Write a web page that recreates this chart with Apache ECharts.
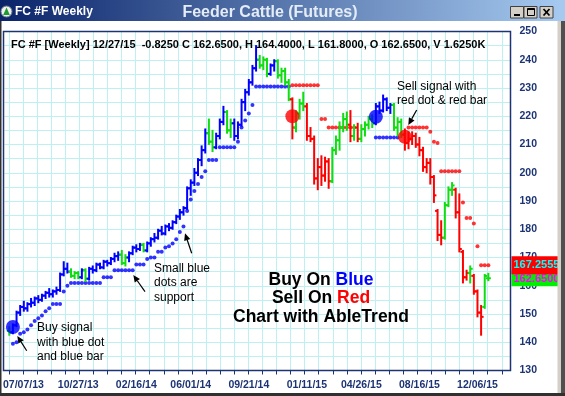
<!DOCTYPE html>
<html><head><meta charset="utf-8">
<script src="https://cdn.jsdelivr.net/npm/echarts@6/dist/echarts.min.js"></script>
<style>html,body{margin:0;padding:0;background:#fff}#c{width:565px;height:396px}</style>
</head><body><div id="c"></div>
<script>
// ---------- DATA (weekly bars, week index 0 = 07/07/13) ----------
const firstWeek = -3;
const barOpen = [
144,143.5,146,150.5,152.5,152,153.5,154,155.5,155,
156.5,157.5,157,158,158.5,164,166,165,163.5,164.5,
163,165.5,162.5,166,165.5,167.5,166.5,168.5,168,169.5,
170.5,171,168,170,171.5,173.5,173,174.5,172.5,175,
176.5,177,179.5,178.5,181,180.5,182.5,184.5,186,187.5,
194.5,196.5,200,204.5,208,214,211,209,213,218,
221.5,215,217.5,213,217,225,228.5,232,237,240,
238,240,235,238,239.5,234.5,236,232,226,216,
221,224.5,223.5,213,212,198,202,199,204,197,
208,211.5,216,219,217,213,216,212,215.5,217,
219,217.5,223.5,222,226,223,224,216,218,213.5,
210.5,212,213,210,208,202,203.5,198.5,186.5,178,
177,188.5,194,194,186,172,163,164.5,163.5,158,
150.5,152.5,162.65];
const barHigh = [
145.5,146.5,151,153,154.5,154,155.5,156,156.5,157,
158,159,158.5,159.5,164.5,168.5,168,166,165,165,
166,166,166.5,167,168,168,169,169,170,171.5,
172,172.5,171,172,174,174.5,175,175,175.5,177,
178.5,180,181,181.5,182,183,185,187,188,195,
197.5,201.5,205,209.5,215.5,219,215,214,219,223.5,
222,219,219,218,226,229.5,233,238,245,241.5,
241,240.5,238.5,240,240,237,237,233,226.5,222,
226,228.5,224.5,216,213,205,206,205.5,205,209,
213,218,221,221.5,222,217,217.5,217,218,220,
220.5,224.5,225,227.5,226.5,224.5,224.5,219.5,219,215.5,
214.5,214.5,214,212.5,209,205,205,199,187,183,
189.5,195,196.5,194.5,192.5,172.5,165.5,167,164,158.5,
153,164,164.4];
const barLow = [
142.5,143,145.5,149.5,151,151,152.5,153,154,154.5,
155.5,156,156,157,158,163.5,164.5,163,162.5,162.5,
162.5,161.5,162,164.5,165,166,166,167,167.5,168.5,
169,167.5,167,168.5,171,172,172.5,172,172,174,
175.5,176.5,178,178,179.5,180,182,183.5,185,187,
192,195.5,199,202.5,207,210,207.5,208.5,212,217,
214,212.5,211.5,212,216.5,222,227.5,231,236,237,
236.5,234,234.5,236,233.5,232,231,225.5,212,214.5,
219,222,211.5,211,196,194,195.5,197,194.5,196.5,
206.5,208,214.5,215,211,211.5,211,211,213,215.5,
216,217,221,221.5,222,221,215,213,212.5,208,
208.5,210,209,206,200.5,200,196,189.5,176,174.5,
176.5,188,192,184,172,161,162,161,157,149,
142.5,152,161.8];
const barClose = [
143.5,146,150.5,152.5,152,153.5,154,155.5,155,156.5,
157.5,157,158,158.5,164,166,165,163.5,164.5,163,
165.5,162.5,166,165.5,167.5,166.5,168.5,168,169.5,170.5,
171,168,170,171.5,173.5,173,174.5,172.5,175,176.5,
177,179.5,178.5,181,180.5,182.5,184.5,186,187.5,194.5,
196.5,200,204.5,208,214,211,209,213,218,221.5,
215,217.5,213,217,225,228.5,232,237,240,238,
240,235,238,239.5,234.5,236,232,226,216,221,
224.5,223.5,213,212,198,202,199,204,197,208,
211.5,216,219,217,213,216,212,215.5,217,219,
217.5,223.5,222,226,223,224,216,218,213.5,210.5,
212,213,210,208,202,203.5,198.5,192,178,177,
188.5,194,195.5,186,173,163,164.5,166,158,150.5,
149,163.475,162.65];
const barColor = ('g b b b b b b b b b ' +
 'b b b b b b b g g g ' + 'b g b b b b b b b b ' +
 'b g g b b b b g b b ' + 'b b b b b b b b b b ' +
 'b b b b b g g b b b ' + 'g g b b b b b b b g ' +
 'g g b b g g g g r g ' + 'g g r r r r r r r g ' +
 'g g g g r g r g g g ' + 'g b b b b b g g g r ' +
 'r r r r r r r r r r ' + 'g g g r r r r g r r ' +
 'r g g').split(' ');
const stopLevel = [
null,139.5,140,143,143.5,144.5,146,147.5,148.5,149.5,
151,152,153.5,153.5,153.5,158,160,161,161,161,
161,161,161,161,161,161,163,163,163,165.5,
165.5,165.5,165.5,165.5,165.5,167.5,167.5,167.5,169.5,170,
170,172,172,173.5,174,175,176.5,179,181,186.5,
190.5,193.5,196,198.5,200.5,204.5,204.5,204.5,209,209,
209,209,209,211,216,218.5,221,224,230.5,230.5,
230.5,230.5,230.5,230.5,230.5,230.5,230.5,230.5,231,231,
231,231,231,231,231,231,219,219,216,216,
216,216,216,216,216,216,null,null,null,null,
null,212.5,212.5,212.5,212.5,212.5,212.5,212.5,null,null,
216,216,216,216,216,216,214.5,211,210.5,200.5,
200.5,200.5,200.5,200.5,200.5,189.5,184,184,182,174,
167.2555,167.2555,167.2555];
const signalWeek  = [-2, 75, 98, 106];
const signalLevel = [145.4, 220, 219.8, 212.7];
const signalColor = ['b', 'r', 'b', 'r'];
const xLabelWeeks = [0.9, 16, 32, 47, 63, 79, 94, 110, 126];
const xLabelText  = ['07/07/13','10/27/13','02/16/14','06/01/14','09/21/14','01/11/15','04/26/15','08/16/15','12/06/15'];
const yLabelValues = [130,140,150,160,170,180,190,200,210,220,230,240,250];
const priceTagValue = [162.65, 167.2555];
const priceTagText  = ['162.6500', '167.2555'];

// ---------- BUILD ----------
const FONT = '"Liberation Sans", Arial, sans-serif';
const NAVY = '#1c3473';
const GRIDC = '#bdf0f0';
const COL = {b: '#0000ff', g: '#10dd10', r: '#ff0000'};
const X_MIN = -4.35, X_MAX = 135.1;
const weeks = barOpen.map((_, k) => firstWeek + k);
const ohlcData = weeks.map((w, k) => [w, barOpen[k], barHigh[k], barLow[k], barClose[k]]);
function trendAt(w) { let s = null; signalWeek.forEach((sw, j) => { if (sw <= w) s = signalColor[j]; }); return s; }
const blueStops = [], redStops = [];
weeks.forEach((w, k) => { const v = stopLevel[k]; if (v == null) return; (trendAt(w) === 'r' ? redStops : blueStops).push([w, v]); });
const gridWeeks = [];
for (let k = 0; k < 36; k++) gridWeeks.push(-3.1 + 3.88 * k);

const chart = echarts.init(document.getElementById('c'));

function arrow(x1, y1, x2, y2) {
  const dx = x2 - x1, dy = y2 - y1, L = Math.hypot(dx, dy), ux = dx / L, uy = dy / L;
  const hl = 7, hw = 3.2, bx = x2 - ux * hl, by = y2 - uy * hl;
  return [
    {type: 'line', z: 60, shape: {x1, y1, x2: bx, y2: by}, style: {stroke: '#000', lineWidth: 1.2}},
    {type: 'polygon', z: 60, shape: {points: [[x2, y2], [bx - uy * hw, by + ux * hw], [bx + uy * hw, by - ux * hw]]}, style: {fill: '#000'}}
  ];
}
function txt(x, y, s, opt, z) {
  return {type: 'text', z: z || 60, x, y, style: Object.assign({text: s, fill: '#000', font: '12px ' + FONT, verticalAlign: 'middle'}, opt || {})};
}
function btn(x) {
  return {type: 'rect', z: 110, shape: {x: x, y: 6.5, width: 13, height: 11.5}, style: {fill: '#d4d0c8', stroke: '#404040', lineWidth: 1}};
}

const graphics = [
  // title bar
  {type: 'rect', z: 100, shape: {x: 0, y: 0, width: 565, height: 21},
   style: {fill: new echarts.graphic.LinearGradient(0, 0, 1, 0, [{offset: 0, color: '#0a246a'}, {offset: 1, color: '#a6caf0'}])}},
  {type: 'circle', z: 110, shape: {cx: 6.5, cy: 11.5, r: 5.5}, style: {fill: '#eef2ee', stroke: '#6b7b8b', lineWidth: 1}},
  {type: 'polygon', z: 111, shape: {points: [[3.2, 15], [6.5, 7.5], [9.8, 15]]}, style: {fill: '#1e9a32'}},
  txt(15, 12, 'FC #F Weekly', {fill: '#ffffff', font: 'bold 12px ' + FONT}, 120),
  txt(270, 12.5, 'Feeder Cattle (Futures)', {fill: '#e4ecf6', font: 'bold 16px ' + FONT, align: 'center'}, 120),
  btn(510.5), btn(524), btn(540),
  {type: 'rect', z: 112, shape: {x: 514, y: 14, width: 6, height: 2}, style: {fill: '#000'}},
  {type: 'rect', z: 112, shape: {x: 527.5, y: 8.5, width: 7, height: 7}, style: {fill: 'none', stroke: '#000', lineWidth: 1}},
  {type: 'rect', z: 112, shape: {x: 527.5, y: 8.5, width: 7, height: 1.5}, style: {fill: '#000'}},
  {type: 'line', z: 112, shape: {x1: 543.5, y1: 9, x2: 549.5, y2: 15.5}, style: {stroke: '#000', lineWidth: 1.8}},
  {type: 'line', z: 112, shape: {x1: 549.5, y1: 9, x2: 543.5, y2: 15.5}, style: {stroke: '#000', lineWidth: 1.8}},
  // window frame
  {type: 'rect', z: 100, shape: {x: 0, y: 21, width: 1.5, height: 375}, style: {fill: '#303030'}},
  {type: 'rect', z: 100, shape: {x: 557.5, y: 21, width: 3.5, height: 375}, style: {fill: '#d4d0c8'}},
  {type: 'rect', z: 100, shape: {x: 561, y: 21, width: 4, height: 375}, style: {fill: '#505050'}},
  {type: 'rect', z: 100, shape: {x: 0, y: 393, width: 565, height: 3}, style: {fill: '#303030'}},
  // plot border
  {type: 'rect', z: 50, shape: {x: 3.5, y: 31.5, width: 507, height: 339}, style: {fill: 'none', stroke: NAVY, lineWidth: 1.5}},
  // header
  txt(11, 44.5, 'FC #F [Weekly] 12/27/15  -0.8250 C 162.6500, H 164.4000, L 161.8000, O 162.6500, V 1.6250K', {font: 'bold 11px ' + FONT}),
  // center legend
  txt(321, 280, '{k|Buy On }{b|Blue}', {align: 'center', font: 'bold 17.5px ' + FONT,
      rich: {k: {fill: '#000', font: 'bold 17.5px ' + FONT}, b: {fill: '#0000ff', font: 'bold 17.5px ' + FONT}}}),
  txt(321, 298.5, '{k|Sell On }{r|Red}', {align: 'center', font: 'bold 17.5px ' + FONT,
      rich: {k: {fill: '#000', font: 'bold 17.5px ' + FONT}, r: {fill: '#ff0000', font: 'bold 17.5px ' + FONT}}}),
  txt(321, 317, 'Chart with AbleTrend', {align: 'center', font: 'bold 17.5px ' + FONT}),
  // annotations
  txt(37, 328, 'Buy signal'), txt(37, 342.5, 'with blue dot'), txt(37, 357, 'and blue bar'),
  txt(154, 268.5, 'Small blue'), txt(154, 283, 'dots are'), txt(154, 297.5, 'support'),
  txt(397, 87, 'Sell signal with'), txt(397, 101, 'red dot & red bar'),
  ...arrow(26.7, 350.7, 17.3, 336),
  ...arrow(145, 291.7, 133.3, 275),
  ...arrow(191.7, 253.3, 185, 233.3),
  ...arrow(416.7, 110, 408.3, 125)
];

const tagStyle = [{bg: '#00ee00', fg: '#ff00ff', h: 16}, {bg: '#ff0000', fg: '#00ffff', h: 18}];

chart.setOption({
  animation: false,
  backgroundColor: '#ffffff',
  grid: {left: 3.5, right: 54.5, top: 31.5, bottom: 25.5, show: false},
  xAxis: {
    type: 'value', min: X_MIN, max: X_MAX,
    axisLine: {show: false},
    axisTick: {show: true, length: 4, customValues: gridWeeks, lineStyle: {color: NAVY, width: 1}},
    splitLine: {show: true, lineStyle: {color: GRIDC, width: 1}},
    axisLabel: {
      customValues: xLabelWeeks, margin: 9, color: NAVY, fontFamily: FONT, fontWeight: 'bold', fontSize: 10.5,
      formatter: v => { const j = xLabelWeeks.findIndex(w => Math.abs(w - v) < 1e-6); return j >= 0 ? xLabelText[j] : ''; }
    }
  },
  yAxis: {
    type: 'value', position: 'right', min: 130, max: 250, interval: 5,
    axisLine: {show: false}, axisTick: {show: false},
    splitLine: {show: true, lineStyle: {color: GRIDC, width: 1}},
    axisLabel: {customValues: yLabelValues, margin: 9, color: NAVY, fontFamily: FONT, fontWeight: 'bold', fontSize: 10.5}
  },
  graphic: graphics,
  series: [
    {type: 'scatter', z: 2, symbol: 'circle', symbolSize: 4, data: blueStops, itemStyle: {color: COL.b}, silent: true},
    {type: 'scatter', z: 2, symbol: 'circle', symbolSize: 4, data: redStops, itemStyle: {color: COL.r}, silent: true},
    {
      type: 'custom', z: 3, data: ohlcData, encode: {x: 0, y: [1, 2, 3, 4]}, silent: true,
      renderItem(params, api) {
        const k = params.dataIndex, x = api.value(0);
        const pH = api.coord([x, api.value(2)]), pL = api.coord([x, api.value(3)]);
        const pO = api.coord([x, api.value(1)]), pC = api.coord([x, api.value(4)]);
        const c = COL[barColor[k]];
        return {type: 'group', children: [
          {type: 'line', shape: {x1: pH[0], y1: pH[1] - 0.5, x2: pL[0], y2: pL[1] + 0.5}, style: {stroke: c, lineWidth: 2}},
          {type: 'line', shape: {x1: pO[0] - 2.5, y1: pO[1], x2: pO[0], y2: pO[1]}, style: {stroke: c, lineWidth: 2}},
          {type: 'line', shape: {x1: pC[0], y1: pC[1], x2: pC[0] + 2.5, y2: pC[1]}, style: {stroke: c, lineWidth: 2}}
        ]};
      }
    },
    {type: 'scatter', z: 4, symbol: 'circle', symbolSize: 14, silent: true,
     data: signalWeek.map((w, j) => ({value: [w, signalLevel[j]], itemStyle: {color: COL[signalColor[j]]}}))},
    {
      type: 'custom', z: 6, clip: false, silent: true,
      data: priceTagValue.map((v, k) => [k, v]), encode: {x: 0, y: 1},
      renderItem(params, api) {
        const k = params.dataIndex, v = api.value(1);
        const p = api.coord([X_MAX, v]); const st = tagStyle[k];
        return {type: 'group', children: [
          {type: 'rect', shape: {x: p[0] + 1, y: p[1] - st.h / 2, width: 47, height: st.h}, style: {fill: st.bg}},
          {type: 'text', style: {x: p[0] + 3, y: p[1] + (k === 0 ? 1 : 0), text: priceTagText[k], fill: st.fg, font: 'bold 11px ' + FONT, verticalAlign: 'middle'}}
        ]};
      }
    }
  ]
});
</script>
</body></html>
